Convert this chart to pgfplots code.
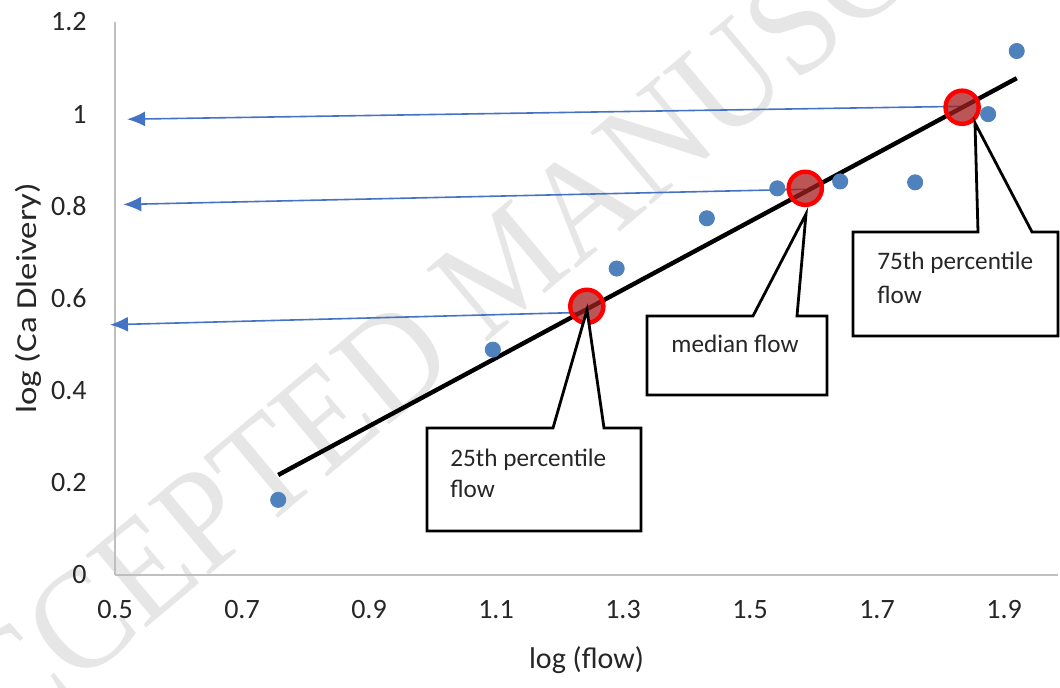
\documentclass[border=0pt]{standalone}
\usepackage{pgfplots}
\pgfplotsset{compat=1.18}
\usepackage{fontspec}
\setmainfont{Carlito}
\newfontfamily\wmfont{Liberation Serif}
\usetikzlibrary{arrows.meta}
\definecolor{dotblue}{HTML}{4F81BD}
\definecolor{arrowblue}{HTML}{4472C4}
\definecolor{axgray}{HTML}{BFBFBF}
\definecolor{ringred}{HTML}{FF0000}
\definecolor{fillred}{RGB}{165,30,30}
\definecolor{wmgray}{RGB}{230,230,230}
\begin{document}
\begin{tikzpicture}
\path[use as bounding box] (-57.5pt,-56.5pt) rectangle (472.5pt,287.5pt);
\clip (-57.5pt,-56.5pt) rectangle (472.5pt,287.5pt);
% watermark
\node[rotate=40, xscale=0.92, text=wmgray, font=\wmfont\fontsize{72pt}{72pt}\selectfont, inner sep=0pt] at (196pt,155pt) {ACCEPTED MANUSCRIPT};
\begin{axis}[
  scale only axis,
  width=471.5pt, height=276.5pt,
  xmin=0.5, xmax=1.985, ymin=0, ymax=1.2,
  axis x line=bottom, axis y line=left,
  axis line style={-, draw=axgray, line width=0.8pt},
  xtick={0.5,0.7,0.9,1.1,1.3,1.5,1.7,1.9},
  ytick={0,0.2,0.4,0.6,0.8,1,1.2},
  xticklabels={0.5,0.7,0.9,1.1,1.3,1.5,1.7,1.9},
  yticklabels={0,0.2,0.4,0.6,0.8,1,1.2},
  major tick length=0pt,
  tick style={draw=none},
  xticklabel style={font=\fontsize{14pt}{16pt}\selectfont, text=black!85, inner sep=0pt, anchor=center, yshift=-17.5pt},
  yticklabel style={font=\fontsize{14pt}{16pt}\selectfont, text=black!85, inner sep=0pt, anchor=east, xshift=-14pt},
  xlabel={log (flow)},
  ylabel={log (Ca Dleivery)},
  xlabel style={font=\fontsize{15pt}{17pt}\selectfont, text=black!85, at={(axis description cs:0.5,-0.1537)}, anchor=center},
  ylabel style={font=\fontsize{14.5pt}{17pt}\selectfont, text=black!85, at={(axis description cs:-0.0922,0.5)}, anchor=center, xscale=1.2},
  clip=false,
]
% observed points
\addplot[only marks, mark=*, mark size=3.8pt, mark options={fill=dotblue, draw=dotblue}] coordinates {
  (0.757,0.163) (1.095,0.489) (1.290,0.665) (1.432,0.774) (1.543,0.839)
  (1.642,0.854) (1.760,0.852) (1.875,1.000) (1.920,1.137)
};
% arrows to y axis
\addplot[arrowblue, line width=0.8pt, -{Latex[length=9pt,width=7.5pt]}] coordinates {(1.834,1.017) (0.519,0.989)};
\addplot[arrowblue, line width=0.8pt, -{Latex[length=9pt,width=7.5pt]}] coordinates {(1.587,0.837) (0.513,0.804)};
\addplot[arrowblue, line width=0.8pt, -{Latex[length=9pt,width=7.5pt]}] coordinates {(1.242,0.570) (0.492,0.543)};
% percentile points
\addplot[only marks, mark=*, mark size=8.3pt, mark options={fill=fillred, fill opacity=0.75, draw=ringred, line width=2.2pt}] coordinates {
  (1.243,0.583) (1.587,0.839) (1.834,1.015)
};
% trend line
\addplot[black, line width=2.2pt] coordinates {(0.757,0.217) (1.920,1.078)};
\end{axis}
% callouts
\begin{scope}[line width=1.4pt, line join=miter]
\draw[fill=white] (156pt,73.5pt) -- (219pt,73.5pt) -- (236pt,132.5pt) -- (244.5pt,73.5pt) -- (263pt,73.5pt) -- (263pt,22pt) -- (156pt,22pt) -- cycle;
\draw[fill=white] (266pt,129.5pt) -- (319pt,129.5pt) -- (345.5pt,180.5pt) -- (341pt,129.5pt) -- (356pt,129.5pt) -- (356pt,90pt) -- (266pt,90pt) -- cycle;
\draw[fill=white] (369pt,171.5pt) -- (431.5pt,171.5pt) -- (430pt,226pt) -- (458.5pt,171.5pt) -- (471.5pt,171.5pt) -- (471.5pt,119.5pt) -- (369pt,119.5pt) -- cycle;
\end{scope}
\begin{scope}[every node/.style={anchor=base west, inner sep=0pt, font=\fontsize{12.6pt}{15pt}\selectfont, text=black!85}]
\node at (167.5pt,54pt) {25th percentile};
\node at (167.5pt,38.5pt) {flow};
\node at (278pt,111pt) {median flow};
\node at (381pt,152.5pt) {75th percentile};
\node at (381pt,135.5pt) {flow};
\end{scope}
\end{tikzpicture}
\end{document}
